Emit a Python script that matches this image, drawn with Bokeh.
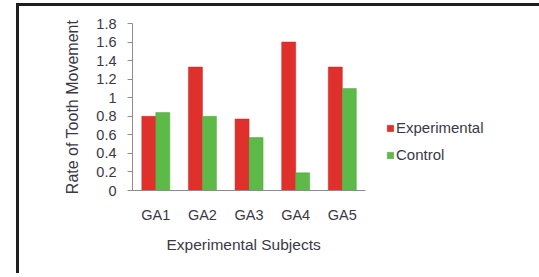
from bokeh.plotting import figure
from bokeh.models import (ColumnDataSource, FactorRange, Range1d, FixedTicker, Legend,
                          LegendItem, Title)
from bokeh.transform import dodge
from bokeh.embed import file_html
from bokeh.resources import INLINE

categories = ["GA1", "GA2", "GA3", "GA4", "GA5"]
experimental = [0.80, 1.33, 0.77, 1.60, 1.33]
control = [0.84, 0.80, 0.57, 0.19, 1.10]
y_ticks = [0, 0.2, 0.4, 0.6, 0.8, 1.0, 1.2, 1.4, 1.6, 1.8]
y_tick_labels = ["0", "0.2", "0.4", "0.6", "0.8", "1", "1.2", "1.4", "1.6", "1.8"]
# empty factors that leave room for the legend to the right of the bars
legend_space = ["_s1", "_s2", "_s3"]

src = ColumnDataSource(dict(cat=categories, exp=experimental, ctl=control))

FONT = "Liberation Sans"
TXT = "#3a3846"
W, H = 526, 270

p = figure(x_range=FactorRange(*(categories + legend_space), range_padding=0),
           y_range=Range1d(0, 1.8),
           width=W, height=H, output_backend="svg", toolbar_location=None,
           min_border_left=113, min_border_right=40, min_border_top=17, min_border_bottom=86,
           styles={"border": "3px solid #1e1e1e", "border-bottom": "none",
                   "margin-left": "16px", "margin-top": "3px"})
p.outline_line_color = None
p.grid.visible = False
p.background_fill_color = "white"
p.border_fill_color = "white"

r1 = p.vbar(x=dodge("cat", -0.15, range=p.x_range), top="exp", width=0.3, source=src,
            fill_color="#e0302b", line_color="#c82420", line_width=0.5)
r2 = p.vbar(x=dodge("cat", 0.15, range=p.x_range), top="ctl", width=0.3, source=src,
            fill_color="#5dba48", line_color="#4ea53c", line_width=0.5)

# y axis
ya = p.yaxis[0]
ya.ticker = FixedTicker(ticks=y_ticks, minor_ticks=[])
ya.major_label_overrides = {t: l for t, l in zip(y_ticks, y_tick_labels)}
ya.major_label_text_font = FONT
ya.major_label_text_font_size = "14.5px"
ya.major_label_text_color = TXT
ya.major_tick_out = 5
ya.major_tick_in = 0
ya.minor_tick_out = 0
ya.minor_tick_in = 0
ya.major_label_standoff = 11
ya.axis_line_color = "#8c8c8c"
ya.major_tick_line_color = "#8c8c8c"
ya.axis_label = "Rate of Tooth Movement"
ya.axis_label_text_font = FONT
ya.axis_label_text_font_size = "16px"
ya.axis_label_text_font_style = "normal"
ya.axis_label_text_color = TXT
ya.axis_label_standoff = 12

# x axis
xa = p.xaxis[0]
xa.bounds = (0, len(categories))
xa.major_label_overrides = {f: "" for f in legend_space}
xa.major_tick_out = 0
xa.major_tick_in = 0
xa.major_label_text_font = FONT
xa.major_label_text_font_size = "14.5px"
xa.major_label_text_color = TXT
xa.major_label_standoff = 16
xa.axis_line_color = "#8c8c8c"

xtitle = Title(text="Experimental Subjects", align="left", offset=34, standoff=16,
               text_font=FONT, text_font_size="15.5px", text_font_style="normal",
               text_color=TXT)
p.add_layout(xtitle, "below")

legend = Legend(items=[LegendItem(label="Experimental", renderers=[r1]),
                       LegendItem(label="Control", renderers=[r2])],
                location=(254, 27), padding=0, margin=0, border_line_color=None,
                background_fill_alpha=0, glyph_width=8, glyph_height=8,
                label_standoff=2, label_height=15, spacing=10,
                label_text_font=FONT, label_text_font_size="15px", label_text_color=TXT)
p.add_layout(legend)

open("out.html", "w").write(file_html(p, INLINE))
